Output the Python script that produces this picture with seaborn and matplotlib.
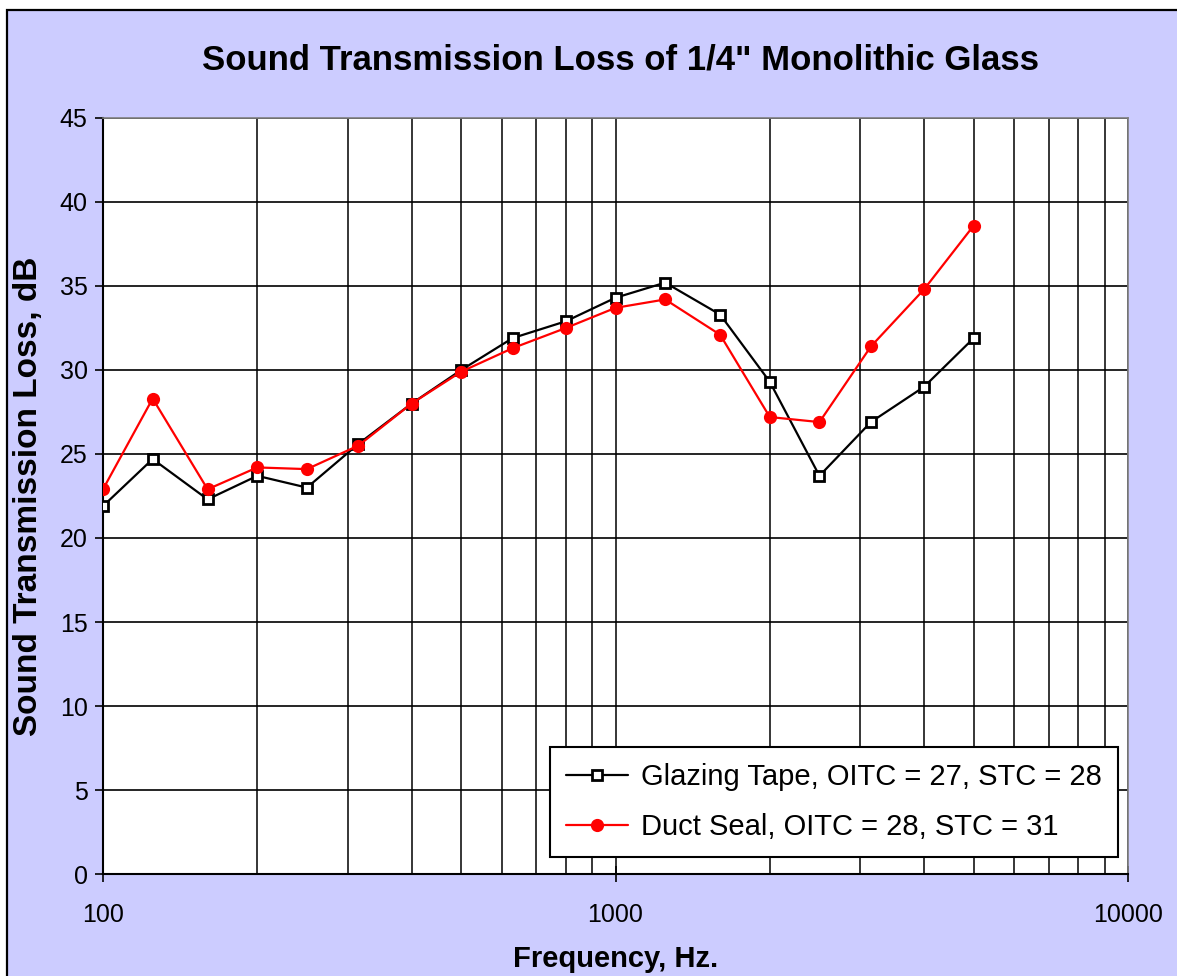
"""
Sound transmission loss of 1/4" monolithic glass - two glazing seal methods
"""

import matplotlib
matplotlib.use("Agg")
import matplotlib.pyplot as plt
from matplotlib.patches import Rectangle
from matplotlib.ticker import LogLocator, NullFormatter, FixedLocator
import pandas as pd
import seaborn as sns

# ── Data ──────────────────────────────────────────────────────────────────────
freq = [100, 125, 160, 200, 250, 315, 400, 500, 630, 800,
        1000, 1250, 1600, 2000, 2500, 3150, 4000, 5000]
glazing_tape = [21.9, 24.7, 22.3, 23.7, 23.0, 25.6, 28.0, 30.0, 31.9, 32.9,
                34.3, 35.2, 33.3, 29.3, 23.7, 26.9, 29.0, 31.9]
duct_seal = [22.9, 28.3, 22.9, 24.2, 24.1, 25.5, 28.0, 29.9, 31.3, 32.5,
             33.7, 34.2, 32.1, 27.2, 26.9, 31.4, 34.8, 38.6]
label_tape = "Glazing Tape, OITC = 27, STC = 28"
label_duct = "Duct Seal, OITC = 28, STC = 31"
y_ticks = list(range(0, 46, 5))
x_ticks = [100, 1000, 10000]

df = pd.DataFrame({"freq": freq, "tape": glazing_tape, "duct": duct_seal})

# ── Style ─────────────────────────────────────────────────────────────────────
BG = "#CCCCFF"
sns.set_theme(style="white")
plt.rcParams["font.family"] = ["Liberation Sans", "DejaVu Sans"]
plt.rcParams.update({"text.color": "black", "axes.labelcolor": "black",
                     "xtick.color": "black", "ytick.color": "black"})

fig = plt.figure(figsize=(11.77, 9.76), dpi=100, facecolor="white")
# lavender chart area with black frame (left / top edges visible)
fig.add_artist(Rectangle((7 / 1177, -0.05), 1.2, 0.05 + (976 - 10) / 976,
                         transform=fig.transFigure, facecolor=BG,
                         edgecolor="black", lw=1.6, zorder=-10))

ax = fig.add_axes([103 / 1177, (976 - 874) / 976, 1025 / 1177, 756 / 976])
ax.set_facecolor("white")

sns.lineplot(data=df, x="freq", y="tape", ax=ax, color="black", lw=1.6,
             marker="s", markersize=7, markerfacecolor="white",
             markeredgecolor="black", markeredgewidth=2, label=label_tape,
             sort=False, zorder=4)
sns.lineplot(data=df, x="freq", y="duct", ax=ax, color="red", lw=1.6,
             marker="o", markersize=9.5, markerfacecolor="red",
             markeredgecolor="red", markeredgewidth=0, label=label_duct,
             sort=False, zorder=5)

ax.set_xscale("log")
ax.set_xlim(100, 10000)
ax.set_ylim(0, 45)
ax.set_yticks(y_ticks)
ax.xaxis.set_major_locator(FixedLocator(x_ticks))
ax.set_xticklabels([str(v) for v in x_ticks])
ax.xaxis.set_minor_locator(LogLocator(base=10, subs=range(2, 10)))
ax.xaxis.set_minor_formatter(NullFormatter())

ax.grid(axis="x", which="both", color="black", lw=1.1)
ax.grid(axis="y", which="major", color="black", lw=1.2)
ax.set_axisbelow(True)

ax.tick_params(axis="y", which="major", direction="out", length=6, width=1.2,
               labelsize=18, pad=5, left=True)
ax.tick_params(axis="x", which="major", direction="inout", length=12, width=1.2,
               labelsize=18, pad=15, bottom=True)
ax.tick_params(axis="x", which="minor", length=0)

for side in ["left", "bottom"]:
    ax.spines[side].set_color("black")
    ax.spines[side].set_linewidth(1.5)
for side in ["top", "right"]:
    ax.spines[side].set_color("#808080")
    ax.spines[side].set_linewidth(1.2)

ax.set_xlabel("Frequency, Hz.", fontsize=21, fontweight="bold", labelpad=13)
ax.set_ylabel("Sound Transmission Loss, dB", fontsize=24, fontweight="bold",
              labelpad=11)
fig.text(621 / 1177, 1 - 60 / 976, "Sound Transmission Loss of 1/4\" Monolithic Glass",
         ha="center", va="center", fontsize=25, fontweight="bold")

leg = ax.legend(loc="lower right", bbox_to_anchor=(0.990, 0.0225),
                fontsize=21, frameon=True, fancybox=False, framealpha=1,
                edgecolor="black", handlelength=2.1, handletextpad=0.45,
                borderpad=0.55, labelspacing=0.75, borderaxespad=0)
leg.get_frame().set_linewidth(1.5)

fig.savefig("out.png", dpi=100, facecolor=fig.get_facecolor())
